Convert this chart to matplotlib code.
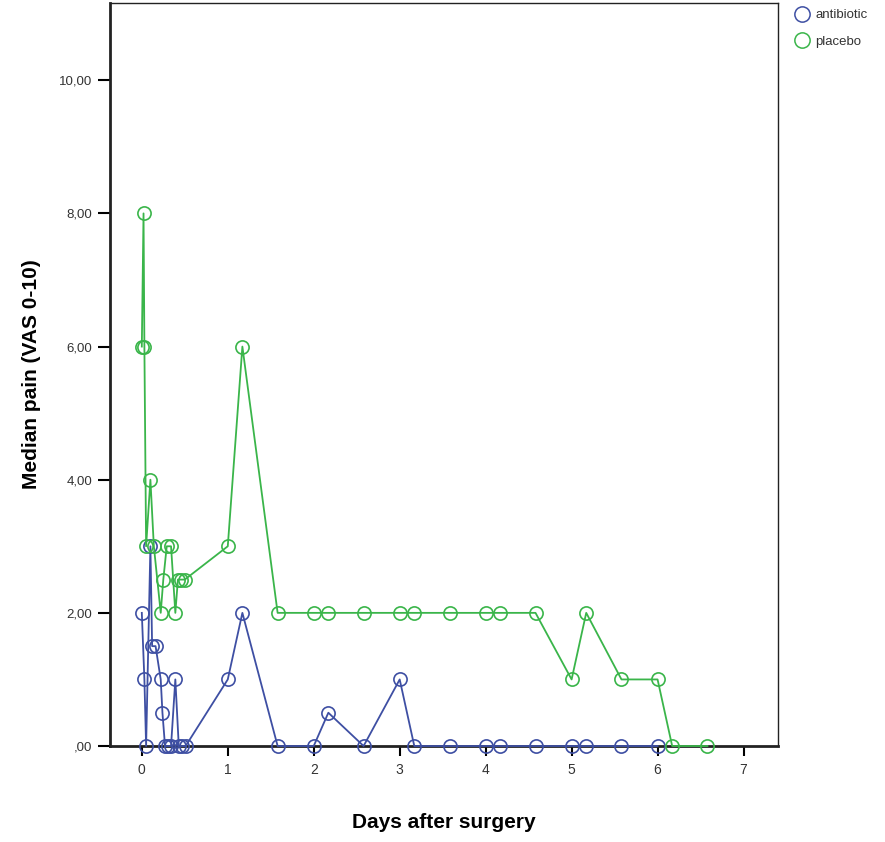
import matplotlib.pyplot as plt
from matplotlib.lines import Line2D
from matplotlib.ticker import FuncFormatter

plt.rcParams["font.family"] = ["Liberation Sans", "DejaVu Sans"]

# days after surgery and median VAS per group
antibiotic_days = [0.0, 0.03, 0.05, 0.1, 0.12, 0.16, 0.22, 0.24, 0.27, 0.3, 0.34, 0.39,
                   0.43, 0.47, 0.51, 1.0, 1.17, 1.58, 2.0, 2.17, 2.58, 3.0, 3.17,
                   3.58, 4.0, 4.17, 4.58, 5.0, 5.17, 5.58, 6.0]
antibiotic_pain = [2, 1, 0, 3, 1.5, 1.5, 1, 0.5, 0, 0, 0, 1,
                   0, 0, 0, 1, 2, 0, 0, 0.5, 0, 1, 0,
                   0, 0, 0, 0, 0, 0, 0, 0]

placebo_days = [0.0, 0.02, 0.03, 0.05, 0.1, 0.14, 0.22, 0.25, 0.29, 0.34, 0.39,
                0.42, 0.46, 0.5, 1.0, 1.17, 1.58, 2.0, 2.17, 2.58, 3.0, 3.17,
                3.58, 4.0, 4.17, 4.58, 5.0, 5.17, 5.58, 6.0, 6.17, 6.58]
placebo_pain = [6, 8, 6, 3, 4, 3, 2, 2.5, 3, 3, 2,
                2.5, 2.5, 2.5, 3, 6, 2, 2, 2, 2, 2, 2,
                2, 2, 2, 2, 1, 2, 1, 1, 0, 0]

BLUE = "#3e4fa3"
GREEN = "#3ab54a"

fig = plt.figure(figsize=(8.85, 8.42), dpi=100)
ax = fig.add_axes([0.1243, 0.114, 0.7547, 0.8824])

style = dict(marker="o", markerfacecolor="none", markersize=9.5,
             markeredgewidth=1.2, linewidth=1.3, clip_on=False, zorder=3)
ax.plot(antibiotic_days, antibiotic_pain, color=BLUE, **style)
ax.plot(placebo_days, placebo_pain, color=GREEN, **style)

ax.set_xlim(-0.37, 7.4)
ax.set_ylim(0, 11.16)
ax.set_xticks(range(0, 8))
ax.set_yticks([0, 2, 4, 6, 8, 10])
ax.yaxis.set_major_formatter(FuncFormatter(lambda v, _: ",00" if v == 0 else f"{v:.2f}".replace(".", ",")))

ax.spines["left"].set_linewidth(2.0)
ax.spines["bottom"].set_linewidth(2.0)
ax.spines["top"].set_linewidth(1.0)
ax.spines["right"].set_linewidth(1.0)
for spine in ax.spines.values():
    spine.set_color("#222222")

ax.tick_params(axis="y", direction="out", length=9, width=1.5, labelsize=9.5,
               labelcolor="#333333", pad=4)
ax.tick_params(axis="x", direction="out", length=7, width=1.5, labelsize=10,
               labelcolor="#333333", pad=5)

ax.set_xlabel("Days after surgery", fontsize=15, fontweight="bold", labelpad=26)
ax.set_ylabel("Median pain (VAS 0-10)", fontsize=15, fontweight="bold", labelpad=13)

handles = [
    Line2D([], [], linestyle="none", marker="o", markerfacecolor="none",
           markeredgecolor=BLUE, markersize=11, markeredgewidth=1.1, label="antibiotic"),
    Line2D([], [], linestyle="none", marker="o", markerfacecolor="none",
           markeredgecolor=GREEN, markersize=11, markeredgewidth=1.1, label="placebo"),
]
fig.legend(handles=handles, loc="upper left", bbox_to_anchor=(0.887, 1.0),
           frameon=False, fontsize=9.5, handletextpad=0.4, labelspacing=1.05,
           borderaxespad=0.3, handlelength=1.2, labelcolor="#333333")

fig.savefig("out.png", dpi=100)
